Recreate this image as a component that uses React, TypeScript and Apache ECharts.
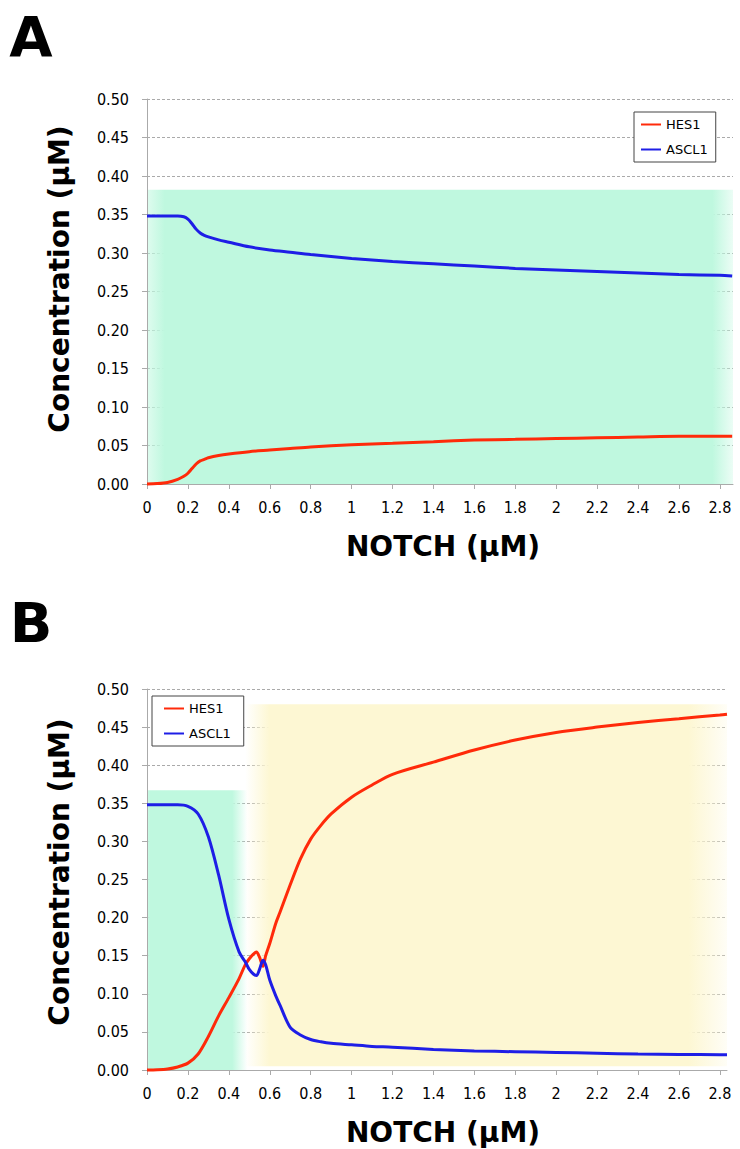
import React, { useEffect, useRef } from "react";
import * as echarts from "echarts";

// Panel A data
const notchA = [0, 0.05, 0.1, 0.15, 0.18, 0.2, 0.22, 0.24, 0.26, 0.28, 0.3, 0.35, 0.4, 0.5, 0.6, 0.7, 0.8, 1.0, 1.2, 1.4, 1.6, 1.8, 2.0, 2.2, 2.4, 2.6, 2.8, 2.86];
const hes1A = [0, 0.0005, 0.002, 0.006, 0.01, 0.014, 0.02, 0.026, 0.03, 0.032, 0.034, 0.037, 0.039, 0.042, 0.044, 0.046, 0.048, 0.051, 0.053, 0.055, 0.057, 0.058, 0.059, 0.06, 0.061, 0.062, 0.062, 0.062];
const ascl1A = [0.348, 0.348, 0.348, 0.348, 0.347, 0.344, 0.338, 0.331, 0.326, 0.323, 0.321, 0.317, 0.314, 0.308, 0.304, 0.301, 0.298, 0.293, 0.289, 0.286, 0.283, 0.28, 0.278, 0.276, 0.274, 0.272, 0.271, 0.27];

// Panel B data
const notchB = [0, 0.05, 0.1, 0.15, 0.2, 0.25, 0.3, 0.35, 0.4, 0.45, 0.48, 0.5, 0.52, 0.535, 0.55, 0.567, 0.58, 0.6, 0.63, 0.65, 0.7, 0.75, 0.8, 0.85, 0.9, 1.0, 1.1, 1.2, 1.4, 1.6, 1.8, 2.0, 2.2, 2.4, 2.6, 2.8, 2.835];
const hes1B = [0, 0.0003, 0.0013, 0.004, 0.009, 0.021, 0.044, 0.071, 0.095, 0.12, 0.138, 0.146, 0.152, 0.155, 0.148, 0.136, 0.15, 0.166, 0.193, 0.207, 0.243, 0.277, 0.303, 0.321, 0.336, 0.358, 0.374, 0.388, 0.404, 0.42, 0.433, 0.443, 0.45, 0.456, 0.461, 0.466, 0.467];
const ascl1B = [0.348, 0.348, 0.348, 0.348, 0.346, 0.336, 0.306, 0.256, 0.198, 0.155, 0.142, 0.132, 0.126, 0.124, 0.132, 0.144, 0.138, 0.118, 0.097, 0.085, 0.056, 0.046, 0.04, 0.037, 0.035, 0.033, 0.031, 0.03, 0.027, 0.025, 0.024, 0.023, 0.022, 0.021, 0.0205, 0.02, 0.02];

const seriesNames = ["HES1", "ASCL1"];
const panelLabels = ["A", "B"];
const yTitle = "Concentration (µM)";
const xTitle = "NOTCH (µM)";

const RED = "#ff2a0a";
const BLUE = "#1e1ee6";
const GREEN = "191,248,223";
const YELLOW = "253,247,211";

function fade(rgb: string, a0: number, s0: number, s1: number, a1: number) {
  return new echarts.graphic.LinearGradient(0, 0, 1, 0, [
    { offset: 0, color: `rgba(${rgb},${a0})` },
    { offset: s0, color: `rgba(${rgb},1)` },
    { offset: s1, color: `rgba(${rgb},1)` },
    { offset: 1, color: `rgba(${rgb},${a1})` },
  ]);
}

export default function App() {
  const ref = useRef<HTMLDivElement>(null);
  useEffect(() => {
    const chart = echarts.init(ref.current!, null, { renderer: "svg" });
    const font = "DejaVu Sans Condensed";
    const mkX = (idx: number, max: number) => ({
      type: "value",
      gridIndex: idx,
      min: 0,
      max,
      interval: 0.2,
      axisLine: { show: true, lineStyle: { color: "#aaa", width: 1 } },
      axisTick: { show: true, length: 5, lineStyle: { color: "#aaa" } },
      axisLabel: {
        color: "#000",
        fontFamily: font,
        fontSize: 16,
        margin: 15,
        showMaxLabel: false,
        formatter: (v: number) => String(parseFloat(v.toFixed(1))),
      },
      splitLine: { show: false },
    });
    const mkY = (idx: number) => ({
      type: "value",
      gridIndex: idx,
      min: 0,
      max: 0.5,
      interval: 0.05,
      axisLine: { show: true, lineStyle: { color: "#aaa", width: 1 } },
      axisTick: { show: true, length: 5, lineStyle: { color: "#aaa" } },
      axisLabel: {
        color: "#000",
        fontFamily: font,
        fontSize: 16,
        margin: 18,
        formatter: (v: number) => v.toFixed(2),
      },
      splitLine: { show: true, lineStyle: { color: "#aaa", type: [3, 2], width: 1 } },
    });
    const line = (name: string, color: string, xs: number[], ys: number[], idx: number, extra: any = {}) => ({
      type: "line",
      name,
      xAxisIndex: idx,
      yAxisIndex: idx,
      data: xs.map((x, i) => [x, ys[i]]),
      showSymbol: false,
      smooth: 0.3,
      clip: false,
      color,
      lineStyle: { color, width: 3 },
      z: 3,
      ...extra,
    });
    const legendBase = {
      orient: "vertical",
      data: seriesNames,
      icon: "rect",
      itemWidth: 20,
      itemHeight: 2,
      itemGap: 8,
      borderColor: "#444",
      borderWidth: 1,
      backgroundColor: "#fff",
      textStyle: { color: "#000", fontFamily: "DejaVu Sans", fontSize: 13, lineHeight: 17 },
    };
    const titleText = (text: string, x: number, y: number, size: number, rot = 0) => ({
      type: "text",
      x,
      y,
      rotation: rot,
      style: {
        text,
        fill: "#000",
        fontFamily: "DejaVu Sans",
        fontWeight: "bold",
        fontSize: size,
        align: "center",
        verticalAlign: "middle",
      },
    });
    chart.setOption({
      animation: false,
      backgroundColor: "#fff",
      grid: [
        { left: 147, top: 99, width: 586, height: 385 },
        { left: 147, top: 689, width: 580, height: 381 },
      ],
      xAxis: [mkX(0, 2.864), mkX(1, 2.835)],
      yAxis: [mkY(0), mkY(1)],
      legend: [
        { ...legendBase, left: 634, top: 112, padding: [4, 8, 4, 7] },
        { ...legendBase, left: 152, top: 696, padding: [4, 13, 4, 12] },
      ],
      graphic: [
        titleText(panelLabels[0], 31, 36, 56),
        titleText(panelLabels[1], 31, 622, 56),
        titleText(yTitle, 59, 279, 28, Math.PI / 2),
        titleText(yTitle, 59, 872, 28, Math.PI / 2),
        titleText(xTitle, 443, 546, 28),
        titleText(xTitle, 443, 1132, 28),
      ],
      series: [
        line(seriesNames[0], RED, notchA, hes1A, 0, {
          markArea: {
            silent: true,
            z: 0,
            data: [
              [
                { xAxis: -0.09, yAxis: -0.01, itemStyle: { color: fade(GREEN, 0.5, 0.03, 0.965, 0.3) } },
                { xAxis: 2.9, yAxis: 0.382 },
              ],
            ],
          },
        }),
        line(seriesNames[1], BLUE, notchA, ascl1A, 0),
        line(seriesNames[0], RED, notchB, hes1B, 1, {
          markArea: {
            silent: true,
            z: 0,
            data: [
              [
                { xAxis: -0.04, yAxis: -0.005, itemStyle: { color: fade(GREEN, 0.75, 0.03, 0.85, 0) } },
                { xAxis: 0.49, yAxis: 0.367 },
              ],
              [
                { xAxis: 0.48, yAxis: 0.005, itemStyle: { color: fade(YELLOW, 0, 0.05, 0.92, 0.2) } },
                { xAxis: 2.87, yAxis: 0.48 },
              ],
            ],
          },
        }),
        line(seriesNames[1], BLUE, notchB, ascl1B, 1),
      ],
    });
    return () => chart.dispose();
  }, []);
  return <div ref={ref} style={{ position: "absolute", left: 0, top: 0, width: 740, height: 1149 }} />;
}
